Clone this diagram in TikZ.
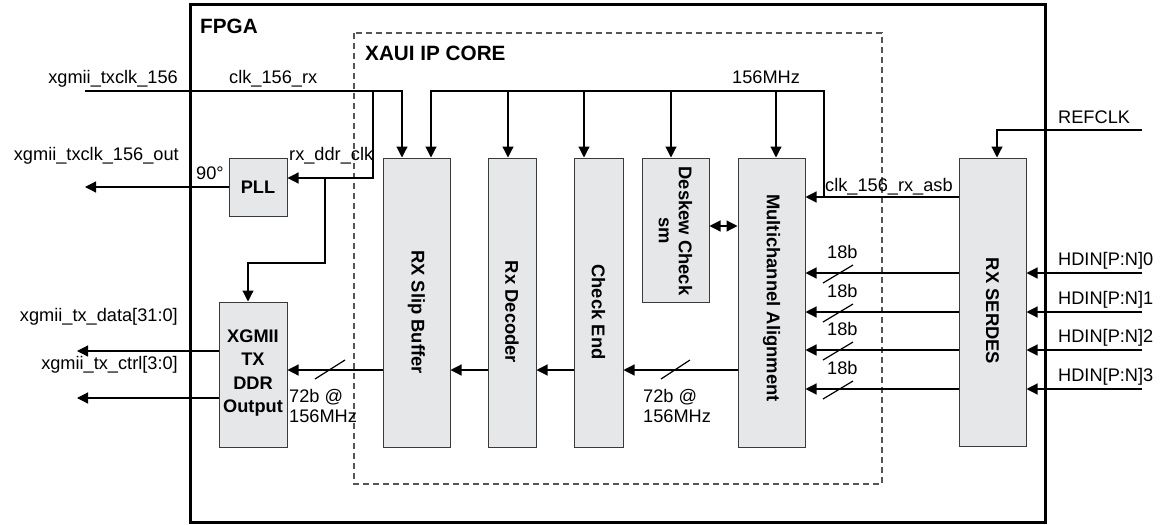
\documentclass[tikz,border=0pt]{standalone}
\usepackage{fontspec}
\setmainfont{Liberation Sans}
\usetikzlibrary{arrows.meta}
\definecolor{boxfill}{HTML}{E6E7E8}
\definecolor{boxline}{HTML}{3A3A3A}
\definecolor{dashc}{HTML}{555555}
\begin{document}
\begin{tikzpicture}[x=1pt,y=-1pt,
  font=\fontsize{18.2}{21}\selectfont,
  blk/.style={draw=boxline,fill=boxfill,line width=1pt,inner sep=0pt},
  wire/.style={line width=1.2pt},
  arr/.style={wire,-{Triangle[length=11pt,width=11pt]}},
  darr/.style={wire,{Triangle[length=11pt,width=11pt]}-{Triangle[length=11pt,width=11pt]}},
  lbl/.style={inner sep=0pt},
  ttl/.style={inner sep=0pt,font=\fontsize{20.7}{24}\selectfont\bfseries},
  bt/.style={inner sep=0pt,font=\fontsize{18.2}{23.5}\selectfont\bfseries,align=center},
  vtxt/.style={inner sep=0pt,font=\fontsize{18.4}{20}\selectfont\bfseries,rotate=-90,align=center}]
\useasboundingbox (0,0) rectangle (1160,525);
% frames
\draw[line width=3pt] (190,4) rectangle (1045,522);
\draw[dashc,line width=1.2pt,dash pattern=on 6pt off 4pt] (354,33) rectangle (882,484);
\node[ttl,anchor=base west] (tfpga) at (200,33) {FPGA};
\node[ttl,anchor=base west] (txaui) at (365,60) {XAUI IP CORE};
% blocks
\node[blk,minimum width=58pt,minimum height=58pt] (pll) at (258,187) {};
\node[blk,minimum width=68pt,minimum height=145pt] (xgmii) at (253,374.5) {};
\node[blk,minimum width=67pt,minimum height=289pt] (slip) at (416.5,302.5) {};
\node[blk,minimum width=48pt,minimum height=289pt] (dec) at (512,302.5) {};
\node[blk,minimum width=49pt,minimum height=289pt] (che) at (598.5,302.5) {};
\node[blk,minimum width=67pt,minimum height=144pt] (desk) at (675.5,230) {};
\node[blk,minimum width=67pt,minimum height=289pt] (mca) at (771.5,302.5) {};
\node[blk,minimum width=67pt,minimum height=288pt] (serdes) at (992.5,302) {};
% block texts
\node[bt] (tpll) at (258,187) {PLL};
\node[bt] (txg) at (253,373) {XGMII\\TX\\DDR\\Output};
\node[vtxt] (tslip) at (416.5,312) {RX Slip Buffer};
\node[vtxt] (tdec) at (512,312) {Rx Decoder};
\node[vtxt] (tche) at (598.5,312) {Check End};
\node[vtxt] (tdesk) at (675.5,231) {Deskew Check\\sm};
\node[vtxt] (tmca) at (771.5,298) {Multichannel Alignment};
\node[vtxt] (tser) at (992.5,311) {RX SERDES};
% clock inputs
\coordinate (inL) at (85,91);
\draw[arr] (inL) -| (slip.north -| 402,0);
\draw[arr] (373,91) |- (pll.east |- 0,178);
\draw[arr] (325,178) |- (248,263) -- (xgmii.north -| 248,0);
\draw[arr] (serdes.west |- 0,197) -- (mca.east |- 0,197);
\draw[arr] (824,197) |- (431,91) -- (slip.north -| 431,0);
\draw[arr] (508,91) -- (dec.north -| 508,0);
\draw[arr] (584,91) -- (che.north -| 584,0);
\draw[arr] (671,91) -- (desk.north -| 671,0);
\draw[arr] (776,91) -- (mca.north -| 776,0);
\coordinate (ref) at (1142,130);
\draw[arr] (ref) -| (serdes.north -| 997,0);
% HDIN lanes
\foreach \y/\n in {273/0,312/1,350/2,389/3}{
  \draw[arr] (1142,\y) -- (serdes.east |- 0,\y);
  \draw[arr] (serdes.west |- 0,\y) -- (mca.east |- 0,\y);
  \draw[wire] (823,\y+10) -- (853,\y-8);
  \node[lbl,anchor=base west] at (1058,\y-8) {HDIN[P:N]\n};
  \node[lbl,anchor=base west] at (827,\y-15) {18b};
}
% data path
\draw[darr] (desk.east |- 0,226) -- (mca.west |- 0,226);
\draw[arr] (mca.west |- 0,370) -- (che.east |- 0,370);
\draw[arr] (che.west |- 0,370) -- (dec.east |- 0,370);
\draw[arr] (dec.west |- 0,370) -- (slip.east |- 0,370);
\draw[arr] (slip.west |- 0,370) -- (xgmii.east |- 0,370);
\draw[wire] (661,379) -- (690,360);
\draw[wire] (315,379) -- (345,360);
% outputs
\coordinate (o1) at (85,187);
\coordinate (o2) at (77,351);
\coordinate (o3) at (77,398);
\draw[arr] (pll.west |- 0,187) -- (o1);
\draw[arr] (xgmii.west |- 0,351) -- (o2);
\draw[arr] (xgmii.west |- 0,398) -- (o3);
% labels
\node[lbl,anchor=base east] (l1) at (178,83) {xgmii\_txclk\_156};
\node[lbl,anchor=base west] (l2) at (229,83) {clk\_156\_rx};
\node[lbl,anchor=base east] (l3) at (179,160) {xgmii\_txclk\_156\_out};
\node[lbl,anchor=base west] (l4) at (196,179) {90°};
\node[lbl,anchor=base west] (l5) at (289,160) {rx\_ddr\_clk};
\node[lbl,anchor=base west] (l6) at (732,83) {156MHz};
\node[lbl,anchor=base west] (l7) at (1058,123) {REFCLK};
\node[lbl,anchor=base west] (l8) at (825,191) {clk\_156\_rx\_asb};
\node[lbl,anchor=base east] (l9) at (178,321) {xgmii\_tx\_data[31:0]};
\node[lbl,anchor=base east] (l10) at (178,369) {xgmii\_tx\_ctrl[3:0]};
\node[lbl,anchor=base west] (l11) at (289,402) {72b @};
\node[lbl,anchor=base west] (l12) at (289,422) {156MHz};
\node[lbl,anchor=base west] (l13) at (643,402) {72b @};
\node[lbl,anchor=base west] (l14) at (643,422) {156MHz};
\end{tikzpicture}
\end{document}
